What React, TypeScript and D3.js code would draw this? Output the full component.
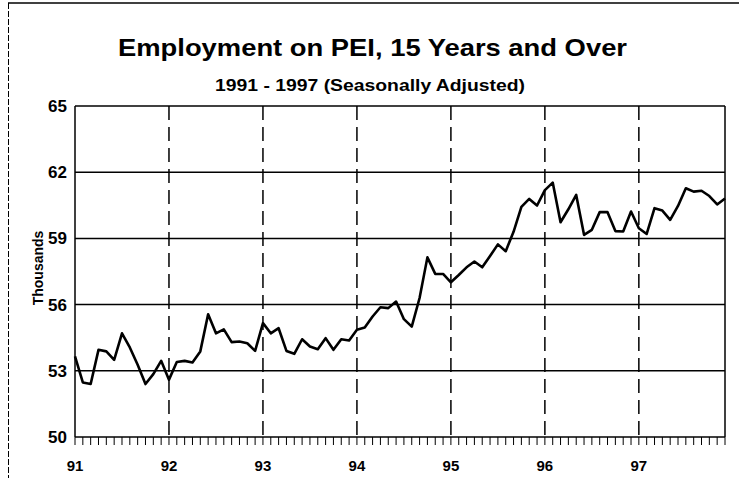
import React from "react";
import * as d3 from "d3";

const employment: number[] = [
  53.65, 52.47, 52.4, 53.95, 53.88, 53.5, 54.7, 54.06, 53.27, 52.4, 52.85, 53.45,
  52.6, 53.4, 53.45, 53.38, 53.88, 55.56, 54.7, 54.88, 54.3, 54.33, 54.25, 53.9,
  55.16, 54.7, 54.93, 53.9, 53.77, 54.43, 54.1, 53.98, 54.48, 53.95, 54.43, 54.37,
  54.86, 54.96, 55.46, 55.88, 55.84, 56.14, 55.34, 55.0, 56.3, 58.14, 57.39, 57.39,
  57.01, 57.34, 57.69, 57.95, 57.69, 58.2, 58.73, 58.42, 59.3, 60.43, 60.79, 60.49,
  61.19, 61.53, 59.73, 60.32, 60.97, 59.16, 59.39, 60.19, 60.19, 59.33, 59.31, 60.22,
  59.46, 59.2, 60.37, 60.26, 59.84, 60.47, 61.27, 61.12, 61.16, 60.92, 60.54, 60.81,
];
const yearLabels: string[] = ["91", "92", "93", "94", "95", "96", "97"];
const yTicks: number[] = [50, 53, 56, 59, 62, 65];
const title = "Employment on PEI, 15 Years and Over";
const subtitle = "1991 - 1997 (Seasonally Adjusted)";
const yTitle = "Thousands";

const W = 739;
const H = 478;
const L = 75, R = 725, T = 106, B = 437;
const FONT = "'Liberation Sans', Arial, sans-serif";

export default function App() {
  const x = d3.scaleLinear().domain([0, employment.length - 1]).range([L, R]);
  const y = d3.scaleLinear().domain([50, 65]).range([B, T]);
  const line = d3
    .line<number>()
    .x((_, i) => x(i))
    .y((d) => y(d));
  const months = d3.range(0, employment.length);

  return (
    <svg
      width={W}
      height={H}
      style={{ position: "absolute", left: 0, top: 0, background: "#fff" }}
      fontFamily={FONT}
    >
      <rect x={0} y={0} width={W} height={H} fill="#fff" />
      {/* outer frame */}
      <line x1={8} x2={W} y1={3} y2={3} stroke="#000" strokeWidth={1.5} />
      <line x1={8.5} x2={8.5} y1={3} y2={H} stroke="#000" strokeWidth={1} strokeDasharray="6,2" />

      <text x={372.5} y={56} textAnchor="middle" fontSize={24} fontWeight="bold"
        textLength={509} lengthAdjust="spacingAndGlyphs">
        {title}
      </text>
      <text x={370} y={91} textAnchor="middle" fontSize={16} fontWeight="bold"
        textLength={310} lengthAdjust="spacingAndGlyphs">
        {subtitle}
      </text>

      {/* horizontal grid */}
      {yTicks.map((t) => (
        <line key={"g" + t} x1={L} x2={R} y1={y(t)} y2={y(t)} stroke="#000" strokeWidth={1.5} />
      ))}
      {/* vertical dashed year lines */}
      {yearLabels.slice(1).map((_, k) => {
        const xi = x((k + 1) * 12);
        return (
          <line
            key={"v" + k}
            x1={xi}
            x2={xi}
            y1={T}
            y2={B}
            stroke="#000"
            strokeWidth={1.5}
            strokeDasharray="14,7"
          />
        );
      })}
      {/* plot frame */}
      <line x1={L} x2={L} y1={T} y2={B} stroke="#000" strokeWidth={1.5} />
      <line x1={R} x2={R} y1={T} y2={B} stroke="#000" strokeWidth={1.5} />

      {/* month ticks */}
      {months.map((m) => (
        <line key={"t" + m} x1={x(m)} x2={x(m)} y1={B} y2={B + 8} stroke="#000" strokeWidth={1} />
      ))}

      {/* y labels */}
      {yTicks.map((t) => (
        <text key={"yl" + t} x={67} y={y(t) + 6} textAnchor="end" fontSize={17} fontWeight="bold">
          {t}
        </text>
      ))}
      <text
        transform={`translate(43,268) rotate(-90)`}
        textAnchor="middle"
        fontSize={14}
        fontWeight="bold"
      >
        {yTitle}
      </text>

      {/* x labels */}
      {yearLabels.map((lab, k) => (
        <text key={"xl" + k} x={x(k * 12)} y={471} textAnchor="middle" fontSize={15} fontWeight="bold">
          {lab}
        </text>
      ))}

      <path d={line(employment) || ""} fill="none" stroke="#000" strokeWidth={2.6} strokeLinejoin="round" />
    </svg>
  );
}
